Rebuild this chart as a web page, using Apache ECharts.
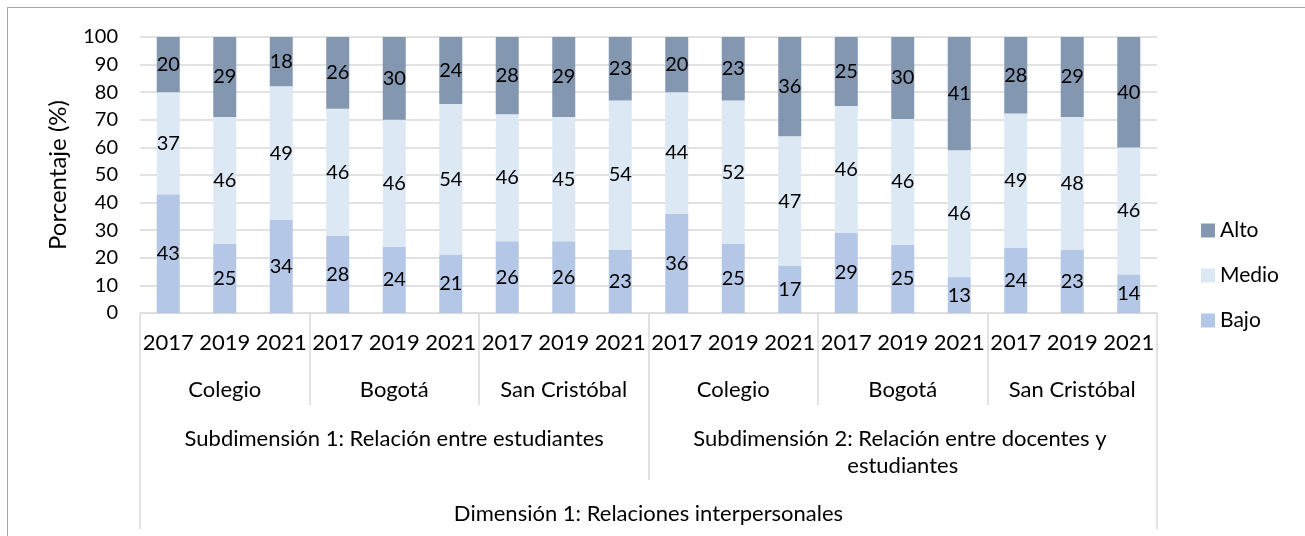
<!DOCTYPE html>
<html>
<head>
<meta charset="utf-8">
<script src="https://cdn.jsdelivr.net/npm/echarts@6/dist/echarts.min.js"></script>
<style>
  html, body { margin: 0; padding: 0; background: #fff; overflow: hidden; }
  #chart { position: absolute; left: 0; top: 0; width: 1305px; height: 536px; }
  #frame { position: absolute; left: 7px; top: 7px; width: 1400px; height: 700px;
           border-left: 1px solid #a6a6a6; border-top: 1px solid #a6a6a6; pointer-events: none; }
</style>
</head>
<body>
<div id="chart"></div>
<div id="frame"></div>
<script>
// ---- data ----
const years = ['2017','2019','2021','2017','2019','2021','2017','2019','2021',
               '2017','2019','2021','2017','2019','2021','2017','2019','2021'];
const places = ['Colegio','Bogotá','San Cristóbal','Colegio','Bogotá','San Cristóbal'];
const subdimensions = ['Subdimensión 1: Relación entre estudiantes',
                       'Subdimensión 2: Relación entre docentes y estudiantes'];
const dimensions = ['Dimensión 1: Relaciones interpersonales'];
const bajo  = [43,25,34,28,24,21,26,26,23,36,25,17,29,25,13,24,23,14];
const medio = [37,46,49,46,46,54,46,45,54,44,52,47,46,46,46,49,48,46];
const alto  = [20,29,18,26,30,24,28,29,23,20,23,36,25,30,41,28,29,40];
const yTicks = [0,10,20,30,40,50,60,70,80,90,100];

// 100% stacked: share of each bar
const totals = bajo.map((v, i) => v + medio[i] + alto[i]);
const share = arr => arr.map((v, i) => ({ value: v / totals[i] * 100, raw: v }));

const FONT = 'Lato';
const grey = '#d9d9d9';
const txt = { color: '#000', fontFamily: FONT, fontSize: 20 };
const txtL = { color: '#000', fontFamily: FONT, fontSize: 22 };

const chart = echarts.init(document.getElementById('chart'), null, { renderer: 'canvas' });

function seriesOf(name, arr, color) {
  return {
    name: name, type: 'bar', stack: 'total', barWidth: 23,
    xAxisIndex: 0, yAxisIndex: 0,
    itemStyle: { color: color },
    label: { show: true, position: 'inside', color: '#000', fontFamily: FONT, fontSize: 20,
             formatter: p => String(p.data.raw) },
    emphasis: { disabled: true },
    data: share(arr)
  };
}

chart.setOption({
  animation: false,
  textStyle: { fontFamily: FONT },
  grid: { left: 140, right: 148, top: 37, bottom: 223, containLabel: false },
  legend: {
    orient: 'vertical', left: 1196, top: 215, itemWidth: 14, itemHeight: 14, itemGap: 24,
    icon: 'rect', textStyle: { color: '#000', fontFamily: FONT, fontSize: 21 },
    data: ['Alto', 'Medio', 'Bajo']
  },
  xAxis: [
    { type: 'category', data: years, position: 'bottom',
      axisLine: { show: true, lineStyle: { color: grey, width: 1 } },
      axisTick: { show: false },
      axisLabel: Object.assign({ interval: 0, margin: 18, lineHeight: 24 }, txtL) },
    { type: 'category', data: places, position: 'bottom', offset: 0,
      axisLine: { show: false },
      axisTick: { show: true, length: 92, lineStyle: { color: grey, width: 1.5 } },
      axisLabel: Object.assign({ interval: 0, margin: 65, lineHeight: 24 }, txtL) },
    { type: 'category', data: subdimensions, position: 'bottom', offset: 0,
      axisLine: { show: false },
      axisTick: { show: true, length: 167, lineStyle: { color: grey, width: 1.5 } },
      axisLabel: Object.assign({ interval: 0, margin: 112, lineHeight: 27, width: 470, overflow: 'break', align: 'center' }, txtL) },
    { type: 'category', data: dimensions, position: 'bottom', offset: 0,
      axisLine: { show: false },
      axisTick: { show: true, length: 216, lineStyle: { color: grey, width: 1.5 } },
      axisLabel: Object.assign({ interval: 0, margin: 189, lineHeight: 24 }, txtL) }
  ],
  yAxis: {
    type: 'value', min: 0, max: 100, interval: 10,
    name: 'Porcentaje (%)', nameLocation: 'middle', nameGap: 70,
    nameTextStyle: { color: '#000', fontFamily: FONT, fontSize: 24 },
    axisLine: { show: false }, axisTick: { show: false },
    axisLabel: Object.assign({ margin: 22, formatter: v => yTicks.includes(v) ? String(v) : '' }, txt),
    splitLine: { show: true, lineStyle: { color: grey, width: 1.5 } }
  },
  series: [
    seriesOf('Bajo', bajo, '#b4c7e7'),
    seriesOf('Medio', medio, '#dde8f5'),
    seriesOf('Alto', alto, '#8497b0')
  ]
});
</script>
</body>
</html>
